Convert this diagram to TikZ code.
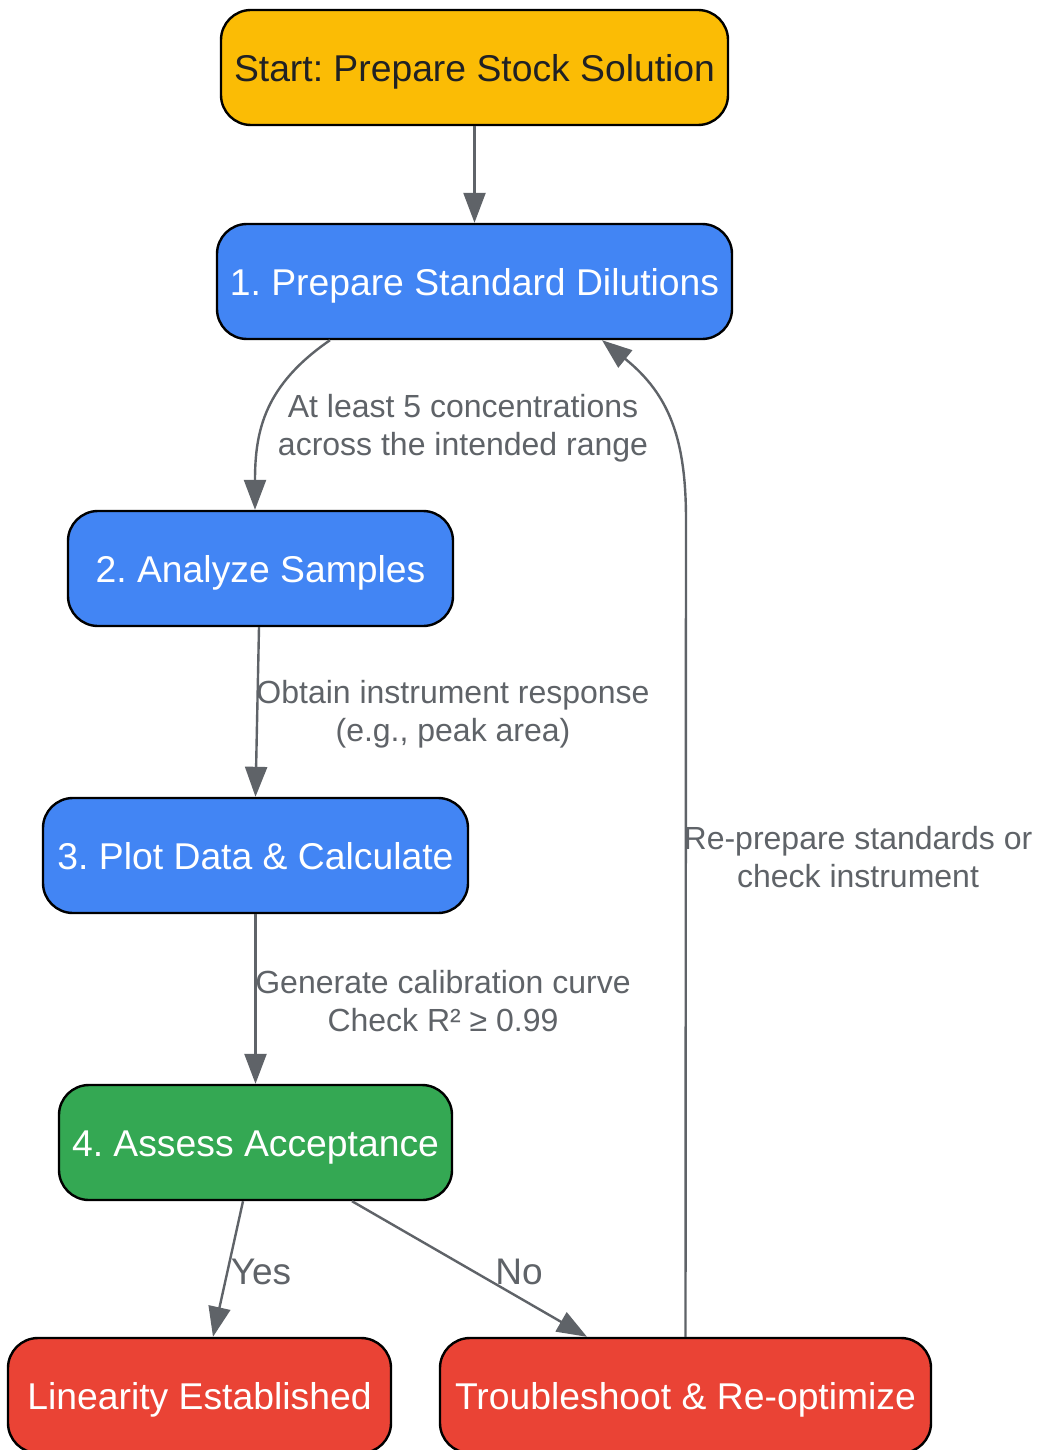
\documentclass[tikz,border=0pt]{standalone}
\usepackage{fontspec}
\setmainfont{Liberation Sans}
\usetikzlibrary{arrows.meta}
\definecolor{cyellow}{HTML}{FBBC05}
\definecolor{cblue}{HTML}{4285F4}
\definecolor{cgreen}{HTML}{34A853}
\definecolor{cred}{HTML}{EA4335}
\definecolor{cgray}{HTML}{5F6368}
\definecolor{cdark}{HTML}{202124}
\frenchspacing
\begin{document}
\begin{tikzpicture}[x=1pt,y=-1pt,
  box/.style={draw=black, line width=2.4pt, rounded corners=30pt, minimum height=115pt, inner sep=0pt,
    text height=28pt, text depth=0pt,
    font=\fontsize{37.3}{44}\selectfont, text=white, align=center},
  edge/.style={draw=cgray, line width=2.4pt, -{Triangle[width=22pt,length=30pt]}},
  elabel/.style={text=cgray, font=\fontsize{32}{38}\selectfont, align=center, inner sep=0pt},
  blabel/.style={text=cgray, font=\fontsize{37}{44}\selectfont, inner sep=0pt}]
\useasboundingbox (0,0) rectangle (1036,1450);
\fill[white] (0,0) rectangle (1036,1450);
\node[box, fill=cyellow, text=cdark, minimum width=507pt] (start) at (474.5,67.5) {Start: Prepare Stock Solution};
\node[box, fill=cblue, minimum width=515pt] (n1) at (474.5,281.5) {1. Prepare Standard Dilutions};
\node[box, fill=cblue, minimum width=385pt] (n2) at (260.5,568.5) {2. Analyze Samples};
\node[box, fill=cblue, minimum width=425pt] (n3) at (255.5,855.5) {3. Plot Data \& Calculate};
\node[box, fill=cgreen, minimum width=393pt] (n4) at (255.5,1142.5) {4. Assess Acceptance};
\node[box, fill=cred, minimum width=383pt] (lin) at (199.5,1395.5) {Linearity Established};
\node[box, fill=cred, minimum width=491pt] (tr) at (685.5,1395.5) {Troubleshoot \& Re-optimize};

\draw[edge] (start.south) -- (n1.north);
\draw[edge] ([xshift=-144.5pt]n1.south) .. controls (265,385) and (255,430) .. ([xshift=-5.5pt]n2.north);
\draw[edge] ([xshift=-1.5pt]n2.south) -- (n3.north);
\draw[edge] (n3.south) -- (n4.north);
\draw[edge] ([xshift=-12.5pt]n4.south) -- ([xshift=13.5pt]lin.north);
\draw[edge] ([xshift=96.5pt]n4.south) -- ([xshift=-98.5pt]tr.north);
\draw[edge] (tr.north) -- (686,520) .. controls (686,440) and (670,395) .. ([xshift=127.5pt]n1.south);

\node[elabel] (l1) at (463,428) {At least 5 concentrations\\across the intended range};
\node[elabel] (l2) at (453,714) {Obtain instrument response\\(e.g., peak area)};
\node[elabel] (l3) at (443,1001) {Generate calibration curve\\Check R² ≥ 0.99};
\node[elabel] (l4) at (858,857) {Re-prepare standards or\\check instrument};
\node[blabel] (yes) at (261,1272) {Yes};
\node[blabel] (no) at (519,1272) {No};
\end{tikzpicture}
\end{document}
